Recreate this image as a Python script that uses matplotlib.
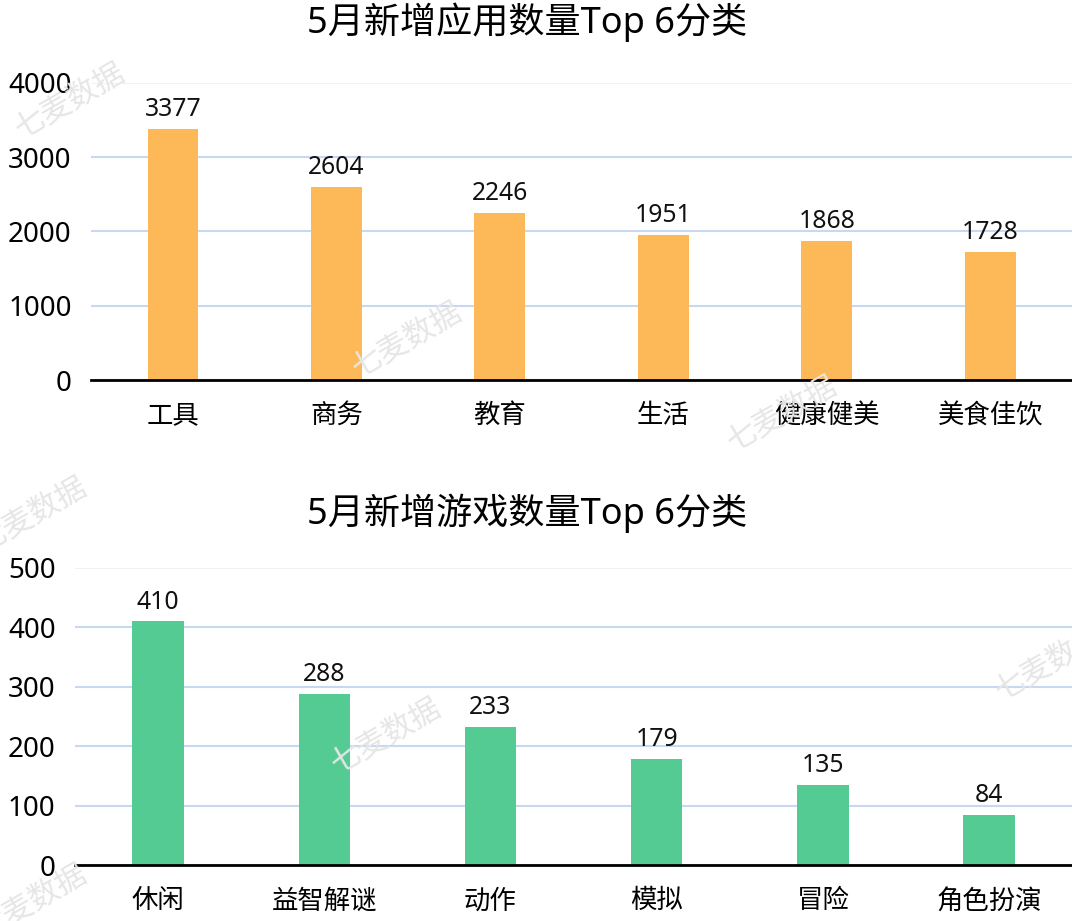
import numpy as np
import matplotlib.pyplot as plt

plt.rcParams['font.family'] = ['Noto Sans', 'Noto Sans CJK SC', 'DejaVu Sans']

# data
app_cats = ['工具', '商务', '教育', '生活', '健康健美', '美食佳饮']
app_vals = [3377, 2604, 2246, 1951, 1868, 1728]
game_cats = ['休闲', '益智解谜', '动作', '模拟', '冒险', '角色扮演']
game_vals = [410, 288, 233, 179, 135, 84]
app_ticks = [0, 1000, 2000, 3000, 4000]
game_ticks = [0, 100, 200, 300, 400, 500]

fig = plt.figure(figsize=(10.72, 9.21), dpi=100)

# watermarks
for x, y in [(0.065, 0.89), (0.38, 0.63), (0.73, 0.55), (0.03, 0.44),
             (0.36, 0.20), (0.98, 0.28), (0.03, 0.02)]:
    fig.text(x, y, '七麦数据', fontsize=22, color='#e6e6e6', rotation=30,
             ha='center', va='center', zorder=0)


def draw(ax, cats, vals, ticks, color, title, title_y):
    x = np.arange(len(cats))
    ax.bar(x, vals, width=0.31, color=color, zorder=3)
    for xi, v in zip(x, vals):
        ax.annotate(str(v), (xi, v), xytext=(0, 5), textcoords='offset points',
                    ha='center', va='bottom', fontsize=17.8, color='#111111')
    ax.set_xlim(-0.5, len(cats) - 0.5)
    ax.set_ylim(0, ticks[-1])
    ax.set_yticks(ticks)
    ax.set_xticks(x)
    ax.set_xticklabels(cats)
    ax.tick_params(axis='y', length=0, labelsize=20, pad=14)
    ax.tick_params(axis='x', length=0, labelsize=19, pad=16)
    ax.yaxis.grid(True, color='#c6d9f0', linewidth=1.5, zorder=0)
    ax.get_ygridlines()[-1].set_color('#f2f2f2')
    for s in ['top', 'right', 'left']:
        ax.spines[s].set_visible(False)
    ax.spines['bottom'].set_linewidth(2)
    ax.spines['bottom'].set_zorder(4)
    ax.set_facecolor('none')
    fig.text(0.492, title_y, title, fontsize=26, ha='center', va='center')


ax1 = fig.add_axes([0.085, 0.5874, 0.915, 0.3225])
draw(ax1, app_cats, app_vals, app_ticks, '#fdb857', '5月新增应用数量Top 6分类', 0.976)

ax2 = fig.add_axes([0.070, 0.0608, 0.930, 0.3225])
draw(ax2, game_cats, game_vals, game_ticks, '#55cb94', '5月新增游戏数量Top 6分类', 0.443)

fig.savefig('out.png', dpi=100)
